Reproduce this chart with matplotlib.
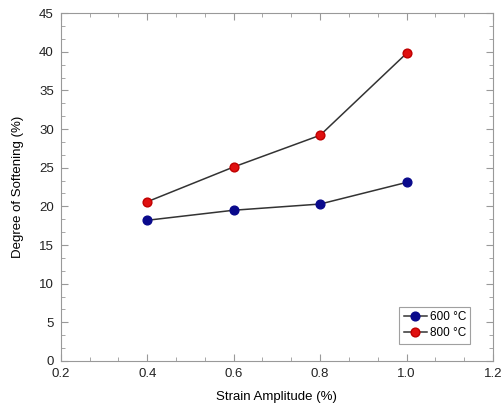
import matplotlib.pyplot as plt
from matplotlib.ticker import AutoMinorLocator, FormatStrFormatter

plt.rcParams['font.family'] = ['Liberation Sans', 'DejaVu Sans']
plt.rcParams['font.size'] = 9.5

# strain amplitude (%) and degree of softening (%)
strain = [0.4, 0.6, 0.8, 1.0]
soft_600 = [18.2, 19.5, 20.3, 23.1]
soft_800 = [20.6, 25.1, 29.2, 39.8]

fig = plt.figure(figsize=(5.03, 4.12), dpi=100)
ax = fig.add_axes([0.121, 0.124, 0.859, 0.844])

ax.plot(strain, soft_600, '-', color='#333333', lw=1.1, marker='o', ms=6.3,
        mfc='#0a0a8c', mec='#0a0a8c', label='600 °C')
ax.plot(strain, soft_800, '-', color='#333333', lw=1.1, marker='o', ms=6.3,
        mfc='#e01010', mec='#c00000', label='800 °C')

ax.set_xlim(0.2, 1.2)
ax.set_ylim(0, 45)
ax.set_xticks([0.2, 0.4, 0.6, 0.8, 1.0, 1.2])
ax.set_yticks(range(0, 46, 5))
ax.xaxis.set_major_formatter(FormatStrFormatter('%.1f'))
ax.xaxis.set_minor_locator(AutoMinorLocator(3))
ax.yaxis.set_minor_locator(AutoMinorLocator(3))
ax.tick_params(which='both', direction='in', top=True, right=True,
               color='#999999', labelcolor='#222222')
ax.tick_params(which='major', length=5, pad=5)
ax.tick_params(which='minor', length=3)
for s in ax.spines.values():
    s.set_color('#999999')

ax.set_xlabel('Strain Amplitude (%)', fontsize=9.5, labelpad=8)
ax.set_ylabel('Degree of Softening (%)', fontsize=9.5, labelpad=11)

leg = ax.legend(loc='lower right', bbox_to_anchor=(0.947, 0.05), fontsize=8.5,
                frameon=True, fancybox=False, handlelength=2.0,
                borderpad=0.35, labelspacing=0.35, handletextpad=0.2,
                borderaxespad=0)
leg.get_frame().set_edgecolor('#888888')
leg.get_frame().set_linewidth(0.8)

fig.savefig('out.png', dpi=100)
